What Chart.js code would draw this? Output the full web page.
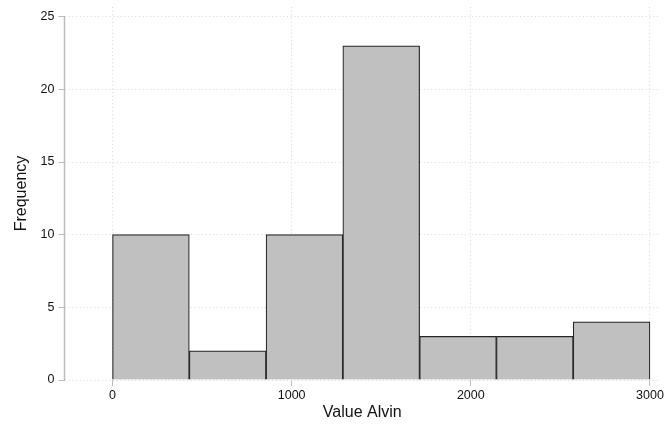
<!DOCTYPE html>
<html>
<head>
<meta charset="utf-8">
<script src="https://cdn.jsdelivr.net/npm/chart.js@4/dist/chart.umd.min.js"></script>
<style>
  html, body { margin: 0; padding: 0; background: #fff; }
  #wrap { width: 665px; height: 427px; }
</style>
</head>
<body>
<div id="wrap"><canvas id="c" width="665" height="427"></canvas></div>
<script>
// Histogram data
const binStart = 0;
const binWidth = 3000 / 7;
const frequencies = [10, 2, 10, 23, 3, 3, 4];
const xTickValues = [0, 1000, 2000, 3000];
const yTickValues = [0, 5, 10, 15, 20, 25];
const xTitle = 'Value Alvin';
const yTitle = 'Frequency';

const points = frequencies.map((f, i) => ({ x: binStart + binWidth * (i + 0.5), y: f }));

const FONT = 'Liberation Sans, Arial, Helvetica, sans-serif';
const gridColor = '#d8d8d8';

const axisLinePlugin = {
  id: 'axisLine',
  afterDraw(chart) {
    const y = chart.scales.y;
    const ctx = chart.ctx;
    const x0 = chart.chartArea.left;
    ctx.save();
    ctx.strokeStyle = '#bdbdbd';
    ctx.lineWidth = 1.5;
    ctx.beginPath();
    ctx.moveTo(x0, y.getPixelForValue(yTickValues[0]));
    ctx.lineTo(x0, y.getPixelForValue(yTickValues[yTickValues.length - 1]));
    ctx.stroke();
    ctx.restore();
  }
};

new Chart(document.getElementById('c'), {
  type: 'bar',
  data: {
    datasets: [{
      data: points,
      backgroundColor: '#c0c0c0',
      borderColor: '#262626',
      borderWidth: 1.2,
      barPercentage: 1.0,
      categoryPercentage: 1.0,
      borderSkipped: 'start'
    }]
  },
  options: {
    responsive: false,
    animation: false,
    layout: { padding: { left: 0, right: 5, top: 7, bottom: 0 } },
    plugins: { legend: { display: false }, tooltip: { enabled: false } },
    scales: {
      x: {
        type: 'linear',
        min: -268,
        max: 3056,
        offset: false,
        afterBuildTicks: (s) => { s.ticks = xTickValues.map(v => ({ value: v })); },
        afterFit: (s) => { s.height = 47; s.paddingLeft = 0; s.paddingRight = 0; },
        ticks: {
          color: '#111',
          font: { family: FONT, size: 12.5 },
          padding: 2,
          maxRotation: 0,
          autoSkip: false,
          callback: (v) => String(v)
        },
        grid: {
          offset: false,
          color: gridColor,
          lineWidth: 1,
          drawTicks: true,
          tickLength: 6,
          tickColor: '#bdbdbd',
          tickWidth: 1
        },
        border: { display: false, dash: [1, 2.7] },
        title: {
          display: true,
          text: xTitle,
          color: '#111',
          font: { family: FONT, size: 16 },
          padding: { top: 0, bottom: 5 }
        }
      },
      y: {
        min: 0,
        max: 25.67,
        afterBuildTicks: (s) => { s.ticks = yTickValues.map(v => ({ value: v })); },
        afterFit: (s) => { s.width = 64.5; s.paddingTop = 0; s.paddingBottom = 0; },
        ticks: {
          color: '#111',
          font: { family: FONT, size: 12.5 },
          padding: 4,
          autoSkip: false
        },
        grid: {
          color: gridColor,
          lineWidth: 1,
          drawTicks: true,
          tickLength: 6,
          tickColor: '#bdbdbd',
          tickWidth: 1
        },
        border: { display: false, dash: [1, 2.7] },
        title: {
          display: true,
          text: yTitle,
          color: '#111',
          font: { family: FONT, size: 16 },
          padding: { top: 12, bottom: 0 }
        }
      }
    }
  },
  plugins: [axisLinePlugin]
});
</script>
</body>
</html>
